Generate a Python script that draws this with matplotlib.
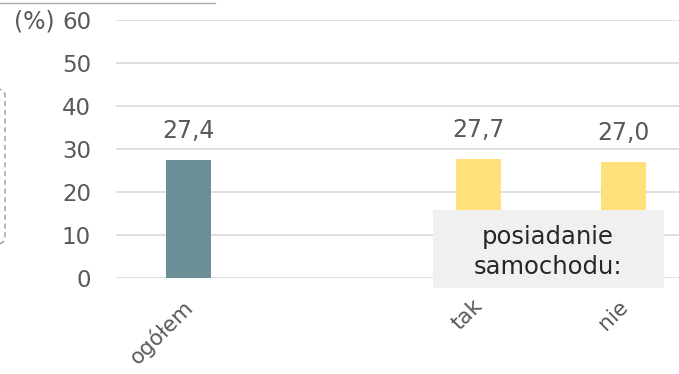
import matplotlib
matplotlib.use("Agg")
import matplotlib.pyplot as plt
import numpy as np
from matplotlib.patches import Rectangle, FancyBboxPatch
from matplotlib.lines import Line2D
import matplotlib.transforms as mtransforms

categories = ["ogółem", "", "tak", "nie"]
values = [27.4, np.nan, 27.7, 27.0]
bar_colors = ["#6B8E97", "#FFFFFF", "#FFE07A", "#FFE07A"]
y_ticks = [0, 10, 20, 30, 40, 50, 60]
group_label = "posiadanie\nsamochodu:"

W, H = 679, 374
plt.rcParams["font.family"] = ["DejaVu Sans"]
text_color = "#595959"

fig = plt.figure(figsize=(W / 100, H / 100), dpi=100)
ax = fig.add_axes([116 / W, (H - 278) / H, 580 / W, 258 / H])

x = np.arange(len(categories))
bars = ax.bar(x, values, width=0.31, color=bar_colors, zorder=2)

for xi, v in zip(x, values):
    if np.isnan(v):
        continue
    ax.annotate(f"{v:.1f}".replace(".", ","), (xi, v), xytext=(0, 12.5),
                textcoords="offset points", ha="center", va="bottom",
                fontsize=17, color=text_color)

ax.set_ylim(0, 60)
ax.set_xlim(-0.5, len(categories) - 0.5)
ax.set_yticks(y_ticks)
ax.set_yticklabels([str(t) for t in y_ticks], fontsize=16.5, color=text_color)
ax.set_xticks(x)
ax.set_xticklabels(categories, rotation=45, ha="right", rotation_mode="anchor",
                   fontsize=15.5, color=text_color)
ax.tick_params(axis="both", length=0)
ax.tick_params(axis="y", pad=18)
ax.tick_params(axis="x", pad=13)
# nudge the slanted labels left along the axis
shift = mtransforms.ScaledTranslation(-6 / 100, 0, fig.dpi_scale_trans)
for lbl in ax.get_xticklabels():
    lbl.set_transform(lbl.get_transform() + shift)
ax.grid(axis="y", color="#D9D9D9", linewidth=1.2, zorder=0)
for s in ax.spines.values():
    s.set_visible(False)

fig.text(14 / W, 1 - 21 / H, "(%)", fontsize=17, color=text_color,
         ha="left", va="center")

# grey caption box over the lower part of the yellow bars
fig.patches.append(Rectangle((433 / W, 1 - 288 / H), 231 / W, 78 / H,
                             transform=fig.transFigure, facecolor="#F0F0F0",
                             edgecolor="none", zorder=5))
fig.text(548 / W, 1 - 252 / H, group_label, fontsize=17.5, color="#262626",
         ha="center", va="center", linespacing=1.3, zorder=6)

# frame pieces at the left edge
fig.lines.append(Line2D([0, 215 / W], [1 - 3 / H, 1 - 3 / H],
                        transform=fig.transFigure, color="#A6A6A6", linewidth=1))
fig.patches.append(FancyBboxPatch((-120 / W, 1 - 245 / H), 125 / W, 157 / H,
                                  boxstyle="round,pad=0,rounding_size=0.02",
                                  transform=fig.transFigure, facecolor="none",
                                  edgecolor="#8C8C8C", linestyle=(0, (4, 3)),
                                  linewidth=0.9))

fig.savefig("out.png", dpi=100)
